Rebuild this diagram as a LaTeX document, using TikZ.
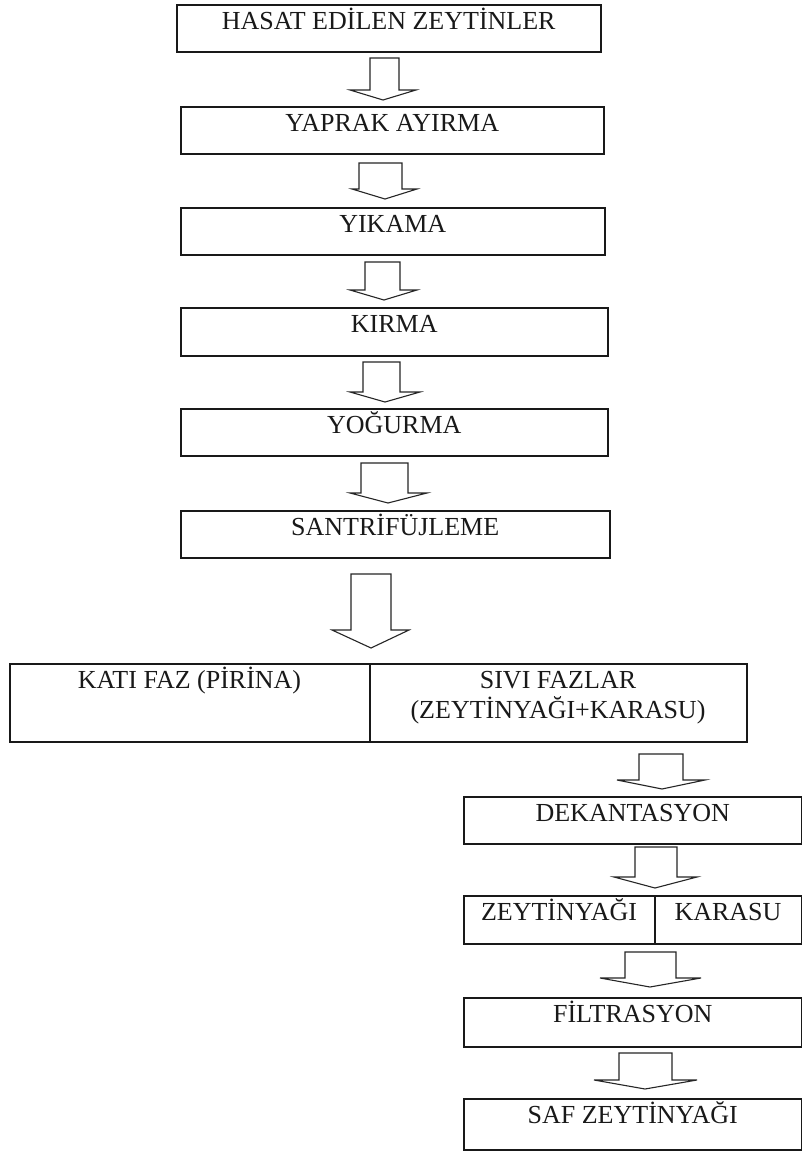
\documentclass[tikz,border=0pt]{standalone}
\usepackage{fontspec}
\setmainfont{Liberation Serif}
\usetikzlibrary{calc}
\newcommand\blockarrow[8]{%
  \draw[barrow] (#1,#3) -- (#2,#3) -- (#2,#6) -- (#5,#6) -- (#7,#8) -- (#4,#6) -- (#1,#6) -- cycle;}
\tikzset{
  box/.style={draw=black!90, line width=1.5pt, rectangle, inner sep=0pt, anchor=north west},
  lbl/.style={anchor=base, inner sep=0pt, font=\fontsize{26}{36}\selectfont, text=black!90},
  barrow/.style={draw=black!85, line width=1.1pt, fill=white, line join=miter},
  divider/.style={draw=black!90, line width=1.3pt}
}
\begin{document}
\begin{tikzpicture}[x=1pt,y=-1pt]
\useasboundingbox[fill=white] (0,0) rectangle (802,1151);
% main column boxes
\node[box, minimum width=424pt, minimum height=47pt] (b1) at (176,4) {};
\node[box, minimum width=423pt, minimum height=47pt] (b2) at (180,106) {};
\node[box, minimum width=424pt, minimum height=47pt] (b3) at (180,207) {};
\node[box, minimum width=427pt, minimum height=48pt] (b4) at (180,307) {};
\node[box, minimum width=427pt, minimum height=47pt] (b5) at (180,408) {};
\node[box, minimum width=429pt, minimum height=47pt] (b6) at (180,510) {};
\node[box, minimum width=737pt, minimum height=78pt] (b7) at (9,663) {};
\node[box, minimum width=338pt, minimum height=47pt] (b8) at (463,796) {};
\node[box, minimum width=338pt, minimum height=48pt] (b9) at (463,895) {};
\node[box, minimum width=338pt, minimum height=49pt] (b10) at (463,997) {};
\node[box, minimum width=338pt, minimum height=51pt] (b11) at (463,1098) {};
% dividers
\coordinate (d7) at (370,663);
\draw[divider] (d7) -- (d7 |- b7.south);
\coordinate (d9) at (655,895);
\draw[divider] (d9) -- (d9 |- b9.south);
% labels
\node[lbl] (t1) at ($(b1.north)+(0,25.5)$) {HASAT EDİLEN ZEYTİNLER};
\node[lbl] (t2) at ($(b2.north)+(0,25.5)$) {YAPRAK AYIRMA};
\node[lbl] (t3) at ($(b3.north)+(0,25.5)$) {YIKAMA};
\node[lbl] (t4) at ($(b4.north)+(0,25.5)$) {KIRMA};
\node[lbl] (t5) at ($(b5.north)+(0,25.5)$) {YOĞURMA};
\node[lbl] (t6) at ($(b6.north)+(0,25.5)$) {SANTRİFÜJLEME};
\node[lbl] (t7a) at (189.5,688) {KATI FAZ (PİRİNA)};
\node[lbl] (t7b) at (558,688) {SIVI FAZLAR};
\node[lbl] (t7c) at (558,718) {(ZEYTİNYAĞI+KARASU)};
\node[lbl] (t8) at ($(b8.north)+(0,25.5)$) {DEKANTASYON};
\node[lbl] (t9a) at (559,920.5) {ZEYTİNYAĞI};
\node[lbl] (t9b) at (728,920.5) {KARASU};
\node[lbl] (t10) at ($(b10.north)+(0,25.5)$) {FİLTRASYON};
\node[lbl] (t11) at ($(b11.north)+(0,25.5)$) {SAF ZEYTİNYAĞI};
% block arrows
\blockarrow{370}{399}{58}{350}{416}{90}{383}{100}
\blockarrow{359}{402}{163}{352}{417}{189}{385}{199}
\blockarrow{365}{400}{262}{350}{417}{290}{384}{300}
\blockarrow{363}{400}{362}{350}{420}{392}{385}{402}
\blockarrow{361}{408}{463}{350}{427}{493}{388}{503}
\blockarrow{351}{391}{574}{332}{409}{630}{371}{648}
\blockarrow{639}{683}{754}{617}{705}{780}{662}{789}
\blockarrow{635}{677}{847}{614}{697}{877}{655}{888}
\blockarrow{625}{676}{952}{600}{701}{978}{650}{987}
\blockarrow{619}{672}{1053}{594}{697}{1080}{645}{1089}
\end{tikzpicture}
\end{document}
